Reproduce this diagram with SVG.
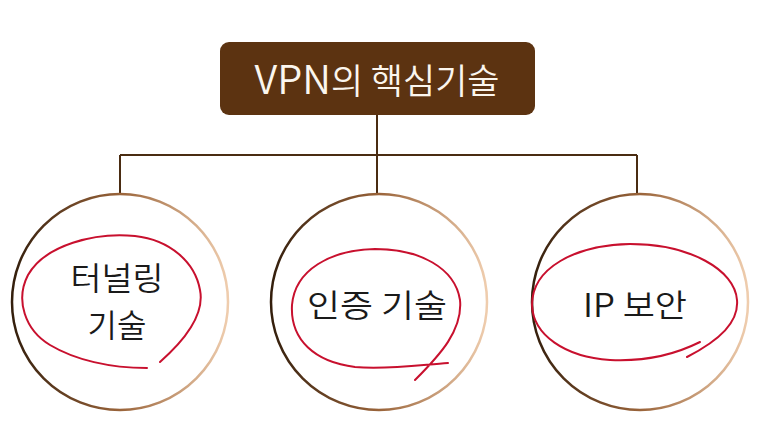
<svg xmlns="http://www.w3.org/2000/svg" width="763" height="424" viewBox="0 0 763 424">
<style>
.conn{stroke:#4a2c12;stroke-width:2;fill:none}
.ring{fill:#ffffff;stroke:url(#ringGrad);stroke-width:2.5}
.mark{fill:none;stroke:#c8102e;stroke-width:2;stroke-linecap:round;stroke-linejoin:round}
.lbl{font-family:"Noto Sans CJK KR","Noto Sans",sans-serif;font-size:32px;font-weight:350;fill:#1a1a1a;text-anchor:middle}
.title{font-family:"Noto Sans CJK KR","Noto Sans",sans-serif;font-size:35px;font-weight:350;fill:#fbf6ee;text-anchor:middle}
</style>
<defs>
<linearGradient id="ringGrad" x1="0" y1="0" x2="1" y2="0">
<stop offset="0" stop-color="#331e0c"/>
<stop offset="0.5" stop-color="#9a643a"/>
<stop offset="1" stop-color="#efcdae"/>
</linearGradient>
</defs>
<rect width="763" height="424" fill="#ffffff"/>
<g id="connectors">
<path class="conn" d="M377 115 V155 M120 155 H637 M120 155 V194 M377 155 V193 M637 155 V193"/>
</g>
<g id="title">
<rect x="220" y="42" width="315" height="73" rx="9" fill="#5c3311"/>
<text class="title" x="377" y="94" textLength="245" lengthAdjust="spacingAndGlyphs"><tspan font-size="40">VPN</tspan>의 핵심기술</text>
</g>
<g id="node-tunneling">
<circle class="ring" cx="120" cy="302" r="108"/>
<path class="mark" d="M160 362 C185 340 205 315 200 290 C195 262 170 240 135 236 C95 232 45 245 28 275 C15 300 25 330 50 345 C75 360 110 368 147 368"/>
<text class="lbl" x="117" y="290" textLength="93" lengthAdjust="spacingAndGlyphs">터널링</text>
<text class="lbl" x="117" y="337">기술</text>
</g>
<g id="node-auth">
<circle class="ring" cx="379" cy="302" r="108"/>
<path class="mark" d="M448 363 C420 365 385 370 355 367 C315 362 290 340 292 305 C295 270 330 250 375 249 C420 249 455 268 460 300 C463 330 440 355 415 380"/>
<text class="lbl" x="377" y="317" textLength="140" lengthAdjust="spacingAndGlyphs">인증 기술</text>
</g>
<g id="node-ipsec">
<circle class="ring" cx="640" cy="302" r="108"/>
<path class="mark" d="M700 342 C680 352 650 362 610 360 C565 357 533 335 532 305 C532 268 575 245 630 244 C690 244 735 270 737 300 C739 322 720 340 687 357"/>
<text class="lbl" x="635" y="317" textLength="104" lengthAdjust="spacingAndGlyphs">IP 보안</text>
</g>
</svg>
